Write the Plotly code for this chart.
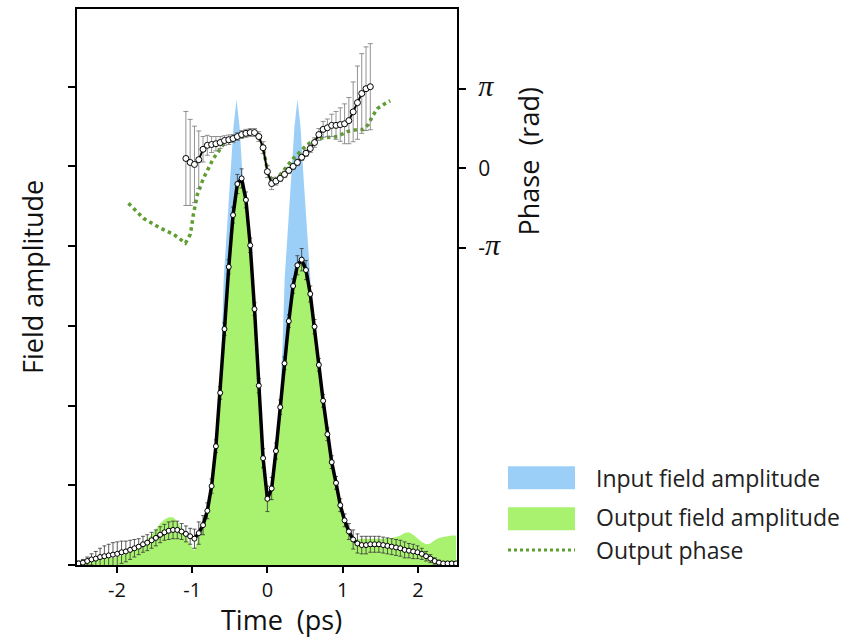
import plotly.graph_objects as go

# ---------------- data ----------------
# time grid (ps) of the measured points
t_meas = [-2.508, -2.451, -2.394, -2.337, -2.28, -2.223, -2.166, -2.109, -2.052, -1.995,
          -1.938, -1.881, -1.824, -1.767, -1.71, -1.653, -1.596, -1.539, -1.482, -1.425,
          -1.368, -1.311, -1.254, -1.197, -1.14, -1.083, -1.026, -0.969, -0.912, -0.855,
          -0.798, -0.741, -0.684, -0.627, -0.57, -0.513, -0.456, -0.399, -0.342, -0.285,
          -0.228, -0.171, -0.114, -0.057, 0.0,
          0.057, 0.114, 0.171, 0.228, 0.285, 0.342, 0.399, 0.456, 0.513, 0.57,
          0.627, 0.684, 0.741, 0.798, 0.855, 0.912, 0.969, 1.026, 1.083, 1.14,
          1.197, 1.254, 1.311, 1.368, 1.425, 1.482, 1.539, 1.596, 1.653, 1.71,
          1.767, 1.824, 1.881, 1.938, 1.995, 2.052, 2.109, 2.166, 2.223, 2.28,
          2.337, 2.394, 2.451, 2.508]

amp_meas = [0.02, 0.03, 0.05, 0.07, 0.08, 0.10, 0.11, 0.12, 0.13, 0.14,
            0.16, 0.17, 0.19, 0.21, 0.23, 0.26, 0.28, 0.31, 0.34, 0.38,
            0.41, 0.43, 0.44, 0.44, 0.42, 0.39, 0.36, 0.33, 0.40, 0.50,
            0.68, 0.99, 1.49, 2.16, 2.96, 3.74, 4.39, 4.78, 4.85, 4.58,
            4.01, 3.21, 2.25, 1.34, 0.83,
            0.96, 1.43, 1.98, 2.53, 3.06, 3.50, 3.76, 3.83, 3.70, 3.40,
            2.99, 2.51, 2.06, 1.64, 1.29, 1.03, 0.75, 0.56, 0.42, 0.32,
            0.27, 0.25, 0.25, 0.26, 0.26, 0.26, 0.25, 0.24, 0.23, 0.22,
            0.21, 0.19, 0.18, 0.17, 0.16, 0.14, 0.11, 0.08, 0.05, 0.03,
            0.02, 0.02, 0.02, 0.02]

amp_err = [0.03, 0.04, 0.05, 0.07, 0.09, 0.11, 0.13, 0.14, 0.15, 0.15,
           0.14, 0.13, 0.12, 0.11, 0.10, 0.10, 0.10, 0.10, 0.10, 0.10,
           0.10, 0.11, 0.11, 0.11, 0.10, 0.10, 0.10, 0.12, 0.14, 0.12,
           0.10, 0.09, 0.08, 0.08, 0.08, 0.09, 0.10, 0.12, 0.12, 0.10,
           0.09, 0.08, 0.09, 0.12, 0.16,
           0.14, 0.10, 0.09, 0.08, 0.08, 0.09, 0.12, 0.14, 0.12, 0.10,
           0.09, 0.08, 0.08, 0.08, 0.08, 0.08, 0.08, 0.08, 0.10, 0.12,
           0.12, 0.11, 0.11, 0.10, 0.10, 0.10, 0.10, 0.10, 0.10, 0.10,
           0.10, 0.10, 0.09, 0.09, 0.08, 0.07, 0.06, 0.05, 0.04, 0.03,
           0.02, 0.02, 0.02, 0.02]

amp_out = [0.03, 0.03, 0.04, 0.05, 0.06, 0.07, 0.08, 0.09, 0.09, 0.10,
           0.12, 0.14, 0.16, 0.20, 0.23, 0.28, 0.33, 0.38, 0.45, 0.52,
           0.57, 0.60, 0.60, 0.55, 0.46, 0.37, 0.26, 0.18, 0.35, 0.55,
           0.75, 0.99, 1.49, 2.16, 2.96, 3.74, 4.39, 4.78, 4.85, 4.58,
           4.01, 3.21, 2.25, 1.34, 0.83,
           0.96, 1.43, 1.98, 2.53, 3.06, 3.50, 3.76, 3.83, 3.70, 3.40,
           2.99, 2.51, 2.06, 1.64, 1.29, 1.03, 0.75, 0.50, 0.38, 0.32,
           0.32, 0.33, 0.33, 0.33, 0.33, 0.33, 0.33, 0.34, 0.34, 0.35,
           0.37, 0.40, 0.41, 0.38, 0.33, 0.29, 0.26, 0.27, 0.31, 0.34,
           0.35, 0.36, 0.37, 0.37]

t_in = [-2.5, -1.0, -0.81, -0.76, -0.71, -0.66, -0.61, -0.58, -0.535, -0.495, -0.45,
        -0.41, -0.37, -0.325, -0.285, -0.24, -0.21, -0.16, -0.11, -0.06, 0.0,
        0.05, 0.1, 0.15, 0.2, 0.23, 0.275, 0.315, 0.36, 0.40, 0.44, 0.485, 0.525,
        0.57, 0.6, 0.65, 0.7, 0.75, 0.8, 1.0, 2.5]
amp_in = [0.0, 0.0, 0.5, 0.8, 1.2, 1.8, 2.7, 3.6, 4.25, 4.8, 5.5,
          5.84, 5.5, 4.8, 4.25, 3.6, 2.7, 1.8, 1.2, 0.8, 0.5,
          0.8, 1.2, 1.8, 2.7, 3.6, 4.25, 4.8, 5.5, 5.84, 5.5, 4.8, 4.25,
          3.6, 2.7, 1.8, 1.2, 0.8, 0.5, 0.0, 0.0]

# measured phase (units of pi rad)
t_phase = t_meas[25:69]
phase_meas = [0.125, 0.075, 0.05, 0.11, 0.24, 0.29, 0.30, 0.31, 0.325, 0.35,
              0.36, 0.375, 0.40, 0.425, 0.44, 0.45, 0.45, 0.40, 0.26, -0.04,
              -0.19, -0.16, -0.125, -0.075, -0.025, 0.025, 0.075, 0.14, 0.19, 0.25,
              0.325, 0.425, 0.49, 0.51, 0.54, 0.54, 0.55, 0.56, 0.60, 0.71,
              0.825, 0.94, 1.0, 1.025]
phase_err = [0.59, 0.54, 0.48, 0.36, 0.16, 0.125, 0.10, 0.09, 0.075, 0.06,
             0.06, 0.05, 0.05, 0.05, 0.05, 0.05, 0.05, 0.06, 0.075, 0.075,
             0.075, 0.05, 0.04, 0.04, 0.04, 0.04, 0.04, 0.04, 0.04, 0.05,
             0.06, 0.075, 0.10, 0.11, 0.14, 0.175, 0.21, 0.25, 0.29, 0.375,
             0.46, 0.50, 0.525, 0.54]

# output phase (computed, units of pi rad)
t_phase_out = [-1.846, -1.647, -1.421, -1.248, -1.089, -1.023, -0.983, -0.930, -0.850,
               -0.717, -0.584, -0.452, -0.266, -0.133, -0.066, -0.027, 0.013, 0.080,
               0.173, 0.345, 0.531, 0.664, 0.797, 0.930, 1.062, 1.195, 1.275, 1.341,
               1.394, 1.461, 1.540, 1.633]
phase_out = [-0.4375, -0.625, -0.75, -0.825, -0.9375, -0.825, -0.575, -0.325, -0.125,
             0.125, 0.30, 0.3625, 0.425, 0.4375, 0.30, 0.0875, -0.075, -0.1625,
             -0.075, 0.125, 0.30, 0.375, 0.3875, 0.40, 0.4625, 0.4875, 0.4875, 0.55,
             0.65, 0.75, 0.80, 0.85]

x_ticks = [-2, -1, 0, 1, 2]
phase_ticks = [-1, 0, 1]
PI = "<span style='font-family:Liberation Serif;font-size:30px'><i>π</i></span>"
phase_tick_text = ["-" + PI, "0", PI]
legend_labels = ["Input field amplitude", "Output field amplitude", "Output phase"]

BLUE = "rgb(155,207,247)"
GREEN = "rgb(168,242,112)"
DGREEN = "rgb(95,158,48)"
FONT = "Open Sans"

fig = go.Figure()
fig.add_trace(go.Scatter(x=t_in, y=amp_in, mode="lines", fill="tozeroy",
                         fillcolor=BLUE, line=dict(width=0, color=BLUE),
                         name=legend_labels[0], showlegend=False))
fig.add_trace(go.Scatter(x=t_meas, y=amp_out, mode="lines", fill="tozeroy",
                         fillcolor=GREEN, line=dict(width=0, color=GREEN),
                         name=legend_labels[1], showlegend=False))
fig.add_trace(go.Scatter(x=t_phase_out, y=phase_out, mode="lines", yaxis="y2",
                         line=dict(color=DGREEN, width=3.5, dash="dot"),
                         name=legend_labels[2], showlegend=False))
fig.add_trace(go.Scatter(x=t_meas, y=amp_meas, mode="lines+markers",
                         line=dict(color="black", width=3.5),
                         marker=dict(size=5, color="white", line=dict(color="black", width=1)),
                         error_y=dict(type="data", array=amp_err, color="#333333",
                                      thickness=0.8, width=2),
                         showlegend=False))
fig.add_trace(go.Scatter(x=t_phase, y=phase_meas, mode="lines+markers", yaxis="y2",
                         line=dict(color="black", width=2),
                         marker=dict(size=6, color="white", line=dict(color="black", width=1)),
                         error_y=dict(type="data", array=phase_err, color="#777777",
                                      thickness=0.8, width=2.5),
                         showlegend=False))

W, H = 865, 640
L, R, T, B = 77, 457, 7, 565


def px(x):
    return (x - L) / (R - L)


def py(y):
    return (B - y) / (B - T)


# legend drawn as shapes + text
shapes = [
    dict(type="rect", xref="paper", yref="paper", x0=px(508), x1=px(575), y0=py(489), y1=py(466),
         fillcolor=BLUE, line=dict(width=0)),
    dict(type="rect", xref="paper", yref="paper", x0=px(508), x1=px(575), y0=py(530), y1=py(507),
         fillcolor=GREEN, line=dict(width=0)),
    dict(type="line", xref="paper", yref="paper", x0=px(508), x1=px(575), y0=py(550), y1=py(550),
         line=dict(color=DGREEN, width=3, dash="dot")),
]
LEG_FONT = dict(size=23, family=FONT, color="#222")
TITLE_FONT = dict(size=27, family=FONT, color="#111")
annotations = [
    dict(text=legend_labels[0], xref="paper", yref="paper", x=px(594), y=py(478),
         xanchor="left", yanchor="middle", showarrow=False, font=LEG_FONT),
    dict(text=legend_labels[1], xref="paper", yref="paper", x=px(594), y=py(517),
         xanchor="left", yanchor="middle", showarrow=False, font=LEG_FONT),
    dict(text=legend_labels[2], xref="paper", yref="paper", x=px(594), y=py(550),
         xanchor="left", yanchor="middle", showarrow=False, font=LEG_FONT),
    dict(text="Field amplitude", xref="paper", yref="paper", x=px(32), y=py(276),
         xanchor="center", yanchor="middle", textangle=-90, showarrow=False, font=TITLE_FONT),
    dict(text="Phase\u00a0 (rad)", xref="paper", yref="paper", x=px(528), y=py(160),
         xanchor="center", yanchor="middle", textangle=-90, showarrow=False, font=TITLE_FONT),
    dict(text="Time\u00a0 (ps)", xref="paper", yref="paper", x=px(281), y=py(620),
         xanchor="center", yanchor="middle", showarrow=False, font=TITLE_FONT),
]

fig.update_layout(
    width=W, height=H,
    margin=dict(l=L, r=W - R, t=T, b=H - B),
    paper_bgcolor="white", plot_bgcolor="white",
    font=dict(family=FONT, color="#111"),
    showlegend=False,
    shapes=shapes, annotations=annotations,
    xaxis=dict(range=[-2.53, 2.52], tickvals=x_ticks, ticktext=[str(v) for v in x_ticks],
               showgrid=False, zeroline=False, showline=True, linecolor="black", linewidth=2,
               mirror=True, ticks="outside", ticklen=6, tickwidth=2, tickcolor="black",
               tickfont=dict(size=20, family=FONT, color="#111")),
    yaxis=dict(range=[0, 6.975], tickvals=[0, 1, 2, 3, 4, 5, 6], showticklabels=False,
               showgrid=False, zeroline=False, showline=True, linecolor="black", linewidth=2,
               ticks="outside", ticklen=7, tickwidth=2, tickcolor="black"),
    yaxis2=dict(range=[-4.975, 2.0], overlaying="y", side="right",
                tickvals=phase_ticks, ticktext=phase_tick_text,
                showgrid=False, zeroline=False, showline=True, linecolor="black", linewidth=2,
                ticks="outside", ticklen=7, tickwidth=2, tickcolor="black",
                ticklabelstandoff=8,
                tickfont=dict(size=21, family=FONT, color="#111")),
)

fig.write_html("out.html")
